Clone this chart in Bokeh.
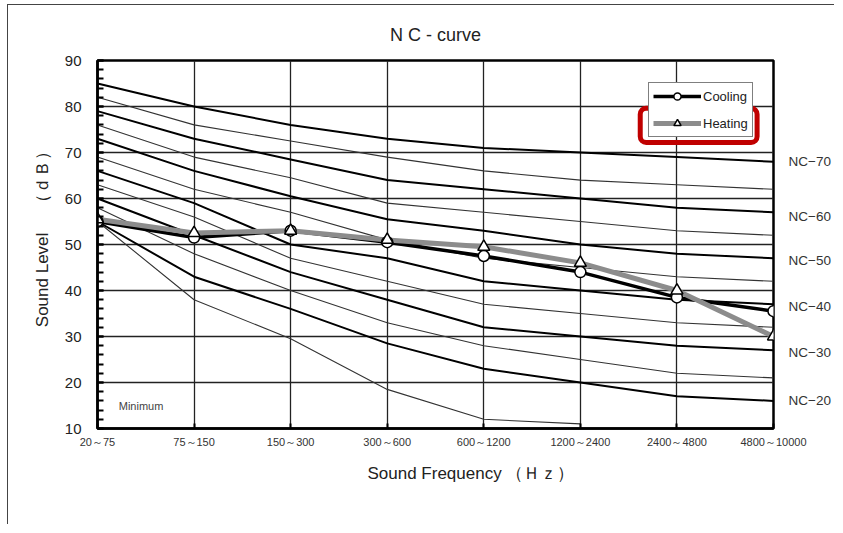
from bokeh.plotting import figure
from bokeh.models import (FixedTicker, Label, Legend, LegendItem, BoxAnnotation,
                          Range1d, LinearAxis)
from bokeh.embed import file_html
from bokeh.resources import INLINE

bands = ["20～75", "75～150", "150～300", "300～600", "600～1200",
         "1200～2400", "2400～4800", "4800～10000"]

nc70 = [85, 80, 76, 73, 71, 70, 69, 68]
nc65 = [82, 76, 72.5, 69, 66, 64, 63, 62]
nc60 = [79, 73, 68.5, 64, 62, 60, 58, 57]
nc55 = [76, 69, 64.5, 59, 57, 55, 53, 52]
nc50 = [73, 66, 60.5, 55.5, 53, 50, 48, 47]
nc45 = [69, 62, 57, 51, 47, 45, 43, 42]
nc40 = [66, 59, 50, 47, 42, 40, 38, 37]
nc35 = [63, 56, 47, 42, 37, 35, 33, 32]
nc30 = [60, 52, 44, 38, 32, 30, 28, 27]
nc25 = [58, 48, 40, 33, 28, 25, 22, 21]
nc20 = [55, 43, 36, 28.5, 23, 20, 17, 16]
nc15 = [55, 38, 29.5, 18.5, 12, 11]

thick_curves = [nc70, nc60, nc50, nc40, nc30, nc20]
thin_curves = [nc65, nc55, nc45, nc35, nc25, nc15]

nc_names = ["NC−70", "NC−60", "NC−50", "NC−40", "NC−30", "NC−20"]
nc_name_levels = [68, 56, 46.5, 36.5, 26.5, 16]

cooling = [55, 51.5, 53, 50.5, 47.5, 44, 38.5, 35.5]
heating = [55.5, 52.5, 53, 51, 49.5, 46, 40, 30]

y_ticks = [10, 20, 30, 40, 50, 60, 70, 80, 90]

FONT = "Liberation Sans"
NB = "\u00a0"

p = figure(width=827, height=520, output_backend="svg", toolbar_location=None,
           x_range=Range1d(0, 7), y_range=Range1d(10, 90),
           min_border_left=89, min_border_right=62, min_border_top=55,
           min_border_bottom=97)

p.title.text = "N C - curve"
p.title.align = "center"
p.title.text_font = "Liberation Sans Narrow, Liberation Sans"
p.title.text_font_size = "18px"
p.title.text_font_style = "normal"
p.title.text_color = "#222222"
p.title.standoff = 31

p.outline_line_color = "black"
p.outline_line_width = 2.5

# x axis
p.xaxis.ticker = FixedTicker(ticks=list(range(len(bands))))
p.xaxis.major_label_overrides = {i: b for i, b in enumerate(bands)}
p.xaxis.major_label_text_font = FONT
p.xaxis.major_label_text_font_size = "11px"
p.xaxis.major_label_text_color = "#333333"
p.xaxis.major_label_standoff = 7
p.xaxis.major_tick_in = 5
p.xaxis.major_tick_out = 0
p.xaxis.major_tick_line_width = 2
p.xaxis.minor_tick_line_color = None
p.xaxis.axis_line_width = 2.5
p.xaxis.axis_label = NB * 15 + "Sound Frequency （Ｈｚ）"
p.xaxis.axis_label_text_font = FONT
p.xaxis.axis_label_text_font_size = "17px"
p.xaxis.axis_label_text_font_style = "normal"
p.xaxis.axis_label_text_color = "#222222"
p.xaxis.axis_label_standoff = 13

# y axis
p.yaxis.ticker = FixedTicker(ticks=y_ticks, minor_ticks=list(range(10, 91, 2)))
p.yaxis.major_label_text_font = FONT
p.yaxis.major_label_text_font_size = "15px"
p.yaxis.major_label_text_color = "#222222"
p.yaxis.major_label_standoff = 16
p.yaxis.major_tick_in = 6
p.yaxis.major_tick_out = 0
p.yaxis.minor_tick_in = 6
p.yaxis.minor_tick_out = 0
p.yaxis.minor_tick_line_width = 2
p.yaxis.major_tick_line_width = 2
p.yaxis.axis_line_width = 2.5
p.yaxis.axis_label = NB * 4 + "Sound Level 　（ｄＢ）"
p.yaxis.axis_label_text_font = FONT
p.yaxis.axis_label_text_font_size = "17px"
p.yaxis.axis_label_text_font_style = "normal"
p.yaxis.axis_label_text_color = "#222222"
p.yaxis.axis_label_standoff = 10

# right axis holding the NC names
r_axis = LinearAxis(ticker=FixedTicker(ticks=nc_name_levels),
                    major_label_overrides={lv: n for lv, n in zip(nc_name_levels, nc_names)},
                    axis_line_color=None, major_tick_line_color=None,
                    minor_tick_line_color=None, major_label_standoff=9,
                    major_label_text_font=FONT, major_label_text_font_size="13.5px",
                    major_label_text_color="#333333")
p.add_layout(r_axis, "right")

p.xgrid.ticker = FixedTicker(ticks=list(range(len(bands))))
p.ygrid.ticker = FixedTicker(ticks=y_ticks)
for g in (p.xgrid, p.ygrid):
    g.grid_line_color = "#222222"
    g.grid_line_width = 1.3
    g.grid_line_alpha = 1.0

# NC curves
for ys in thin_curves:
    p.line(list(range(len(ys))), ys, line_color="#333333", line_width=1.1)
for ys in thick_curves:
    p.line(list(range(len(ys))), ys, line_color="black", line_width=2)

xs = list(range(len(bands)))
c_line = p.line(xs, cooling, line_color="black", line_width=3.5)
h_line = p.line(xs, heating, line_color="#8c8c8c", line_width=5)
c_pts = p.scatter(xs, cooling, marker="circle", size=11, fill_color="white",
                  line_color="black", line_width=1.5)
h_pts = p.scatter(xs, heating, marker="triangle", size=12, fill_color="white",
                  line_color="black", line_width=1.5)

legend = Legend(items=[LegendItem(label="Cooling", renderers=[c_line, c_pts]),
                       LegendItem(label="Heating", renderers=[h_line, h_pts])],
                location=(551, 291), glyph_width=48, glyph_height=18,
                label_height=18, spacing=9, padding=4, margin=0,
                label_standoff=2, label_text_font=FONT,
                label_text_font_size="13px", label_text_color="#222222",
                border_line_color="black", border_line_width=1,
                background_fill_alpha=1.0)
p.add_layout(legend)

p.add_layout(BoxAnnotation(left=5.62, right=6.83, top=79.6, bottom=72.2,
                           fill_alpha=0, line_color="#c00000", line_alpha=1.0,
                           line_width=5, border_radius=6))

p.add_layout(Label(x=0.22, y=15, text="Minimum", text_baseline="middle",
                   text_font=FONT, text_font_size="11px",
                   text_color="#444444"))

p.styles = {"margin-top": "4px", "margin-left": "7px",
            "border-top": "1px solid #444", "border-left": "1px solid #444"}

open("out.html", "w").write(file_html(p, INLINE))
